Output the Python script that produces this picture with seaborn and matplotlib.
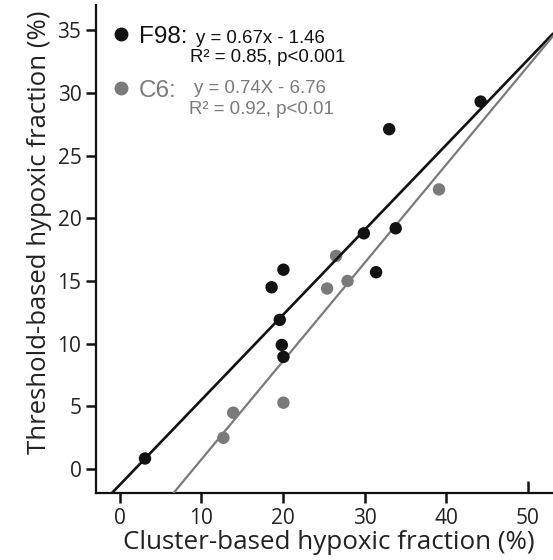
import matplotlib
matplotlib.use("Agg")
import matplotlib.pyplot as plt
from matplotlib.lines import Line2D
import seaborn as sns
import pandas as pd

# ---- data ----
f98_x = [3.1, 18.6, 19.6, 19.85, 20.05, 20.05, 29.9, 31.4, 33.0, 33.8, 44.2]
f98_y = [0.85, 14.5, 11.9, 9.9, 15.9, 8.95, 18.8, 15.7, 27.1, 19.2, 29.3]
c6_x = [12.7, 13.9, 20.05, 25.4, 26.5, 27.9, 39.1]
c6_y = [2.5, 4.5, 5.3, 14.4, 17.0, 15.0, 22.3]

# fitted lines as drawn (slope, intercept)
f98_fit = [0.678, -1.26]
c6_fit = [0.784, -7.07]

groups = ["F98", "C6"]
eq_line1 = ["y = 0.67x - 1.46", "y = 0.74X - 6.76"]
eq_line2 = ["R² = 0.85, p<0.001", "R² = 0.92, p<0.01"]

x_ticks = [0, 10, 20, 30, 40, 50]
y_ticks = [0, 5, 10, 15, 20, 25, 30, 35]
x_label = "Cluster-based hypoxic fraction (%)"
y_label = "Threshold-based hypoxic fraction (%)"

colors = {"F98": "#121212", "C6": "#7a7a7a"}

df = pd.DataFrame({
    "x": f98_x + c6_x,
    "y": f98_y + c6_y,
    "line": ["F98"] * len(f98_x) + ["C6"] * len(c6_x),
})

sns.set_style("ticks")
plt.rcParams["font.family"] = ["Open Sans", "DejaVu Sans"]

fig = plt.figure(figsize=(5.53, 5.60), dpi=100)
ax = fig.add_axes([96 / 553, 67 / 560, 457 / 553, 488 / 560])

ax.set_xlim(-2.9, 53.06)
ax.set_ylim(-1.9, 37.0)

# gray points (beneath lines)
sns.scatterplot(data=df[df.line == "C6"], x="x", y="y", color=colors["C6"],
                s=80, edgecolor="none", ax=ax, zorder=2, legend=False)
# regression lines
ax.axline((0, f98_fit[1]), slope=f98_fit[0], color=colors["F98"], lw=1.9, zorder=3)
ax.axline((0, c6_fit[1]), slope=c6_fit[0], color=colors["C6"], lw=1.6, zorder=3)
# black points
sns.scatterplot(data=df[df.line == "F98"], x="x", y="y", color=colors["F98"],
                s=80, edgecolor="none", ax=ax, zorder=4, legend=False)

ax.set_xticks(x_ticks)
ax.set_yticks(y_ticks)
ax.tick_params(axis="both", labelsize=15, width=1.8, length=7.5, pad=3,
               color="#111111", labelcolor="#222222")
for sp in ["top", "right"]:
    ax.spines[sp].set_visible(False)
for sp in ["left", "bottom"]:
    ax.spines[sp].set_linewidth(1.6)
    ax.spines[sp].set_color("#111111")

# the 50 tick points inward in the reference
t50 = ax.xaxis.get_major_ticks()[-1]
t50.tick1line.set_marker(matplotlib.lines.TICKUP)
t50.tick1line.set_markersize(9)

ax.set_xlabel(x_label, fontsize=18.7, color="#222222", labelpad=1)
ax.set_ylabel(y_label, fontsize=18.5, color="#222222", labelpad=4)
ax.xaxis.label.set_x(0.509)
ax.yaxis.label.set_y(0.535)

# legend keys
handles = [Line2D([], [], marker="o", ls="none", color=colors[g], markersize=9)
           for g in groups]
leg = ax.legend(handles, [g + ":" for g in groups], loc="upper left",
                bbox_to_anchor=(0.0274, 0.957), frameon=False,
                prop={"family": "Liberation Sans", "size": 17.5},
                handlelength=1.0, handletextpad=0.25, labelspacing=1.30,
                borderpad=0, borderaxespad=0)
for txt, g in zip(leg.get_texts(), groups):
    txt.set_color(colors[g])

# equations
eq_pos = [((0.219, 0.932), (0.206, 0.893)), ((0.214, 0.828), (0.204, 0.785))]
for g, l1, l2, (p1, p2) in zip(groups, eq_line1, eq_line2, eq_pos):
    for p, t in ((p1, l1), (p2, l2)):
        ax.text(*p, t, transform=ax.transAxes, fontsize=13.4, color=colors[g],
                va="center", ha="left", family="Liberation Sans")

fig.savefig("out.png", dpi=100)
